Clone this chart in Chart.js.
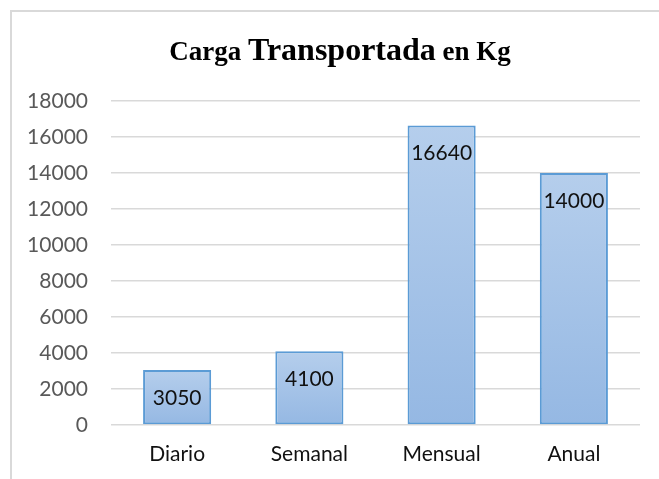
<!DOCTYPE html>
<html>
<head>
<meta charset="utf-8">
<script src="https://cdn.jsdelivr.net/npm/chart.js@4"></script>
<style>
  html, body {margin: 0; padding: 0; background: #fff;}
  #chart {display: block;}
</style>
</head>
<body>
<canvas id="chart" width="659" height="479"></canvas>
<script>
const categories = ['Diario', 'Semanal', 'Mensual', 'Anual']
const cargaKg = [3050, 4100, 16640, 14000]
const yTicks = [0, 2000, 4000, 6000, 8000, 10000, 12000, 14000, 16000, 18000]
const titleParts = [
  {text: 'Carga ', size: 27},
  {text: 'Transportada', size: 32},
  {text: ' en Kg', size: 27},
]

const bodyFont = 'Lato'

// frame around the chart, like the Excel chart area border
const framePlugin = {
  id: 'frame',
  beforeDraw(chart) {
    const c = chart.ctx
    c.save()
    c.strokeStyle = '#d9d9d9'
    c.lineWidth = 2
    c.beginPath()
    c.moveTo(11, chart.height)
    c.lineTo(11, 11)
    c.lineTo(chart.width, 11)
    c.stroke()
    c.restore()
  }
}

// title with mixed font sizes
const mixedTitle = {
  id: 'mixedTitle',
  afterDraw(chart) {
    const c = chart.ctx
    c.save()
    c.fillStyle = '#000'
    c.textBaseline = 'alphabetic'
    const fonts = titleParts.map(p => 'bold ' + p.size + 'px "Liberation Serif", "Times New Roman", serif')
    let total = 0
    const widths = titleParts.map((p, i) => {
      c.font = fonts[i]
      const w = c.measureText(p.text).width
      total += w
      return w
    })
    let x = 340 - total / 2
    titleParts.forEach((p, i) => {
      c.font = fonts[i]
      c.textAlign = 'left'
      c.fillText(p.text, x, 60)
      x += widths[i]
    })
    c.restore()
  }
}

// value labels inside the top of each bar
const insideLabels = {
  id: 'insideLabels',
  afterDatasetsDraw(chart) {
    const c = chart.ctx
    c.save()
    c.font = '21px ' + bodyFont
    c.fillStyle = '#111'
    c.textAlign = 'center'
    c.textBaseline = 'middle'
    chart.getDatasetMeta(0).data.forEach((bar, i) => {
      c.fillText(String(cargaKg[i]), bar.x, bar.y + 28)
    })
    c.restore()
  }
}

function barGradient(ctx) {
  const chart = ctx.chart
  const y = chart.scales.y
  if (!chart.chartArea || !y || ctx.raw == null) return '#a7c4e8'
  const top = y.getPixelForValue(ctx.raw)
  const bottom = y.getPixelForValue(0)
  const g = chart.ctx.createLinearGradient(0, top, 0, bottom)
  g.addColorStop(0, '#b5ceec')
  g.addColorStop(1, '#95b8e3')
  return g
}

new Chart(document.getElementById('chart'), {
  type: 'bar',
  data: {
    labels: categories,
    datasets: [{
      data: cargaKg,
      backgroundColor: barGradient,
      borderColor: '#5b9bd5',
      borderWidth: 2,
      borderSkipped: false,
      barPercentage: 0.515,
      categoryPercentage: 1,
    }]
  },
  options: {
    responsive: false,
    animation: false,
    events: [],
    layout: {padding: {top: 101, right: 19, left: 0, bottom: 0}},
    plugins: {
      legend: {display: false},
      title: {display: false},
      tooltip: {enabled: false},
    },
    scales: {
      x: {
        grid: {display: false, drawTicks: false},
        border: {display: false},
        ticks: {color: '#111', font: {family: bodyFont, size: 21}, padding: 17},
        afterFit(scale) { scale.height = 54 },
      },
      y: {
        min: yTicks[0],
        max: yTicks[yTicks.length - 1],
        afterBuildTicks(scale) { scale.ticks = yTicks.map(v => ({value: v})) },
        grid: {color: '#d9d9d9', lineWidth: 1.5, drawTicks: false},
        border: {display: false},
        ticks: {
          color: '#595959',
          font: {family: bodyFont, size: 21},
          padding: 23,
          callback: v => String(v),
        },
        afterFit(scale) { scale.width = 111 },
      }
    }
  },
  plugins: [framePlugin, mixedTitle, insideLabels]
})
</script>
</body>
</html>
